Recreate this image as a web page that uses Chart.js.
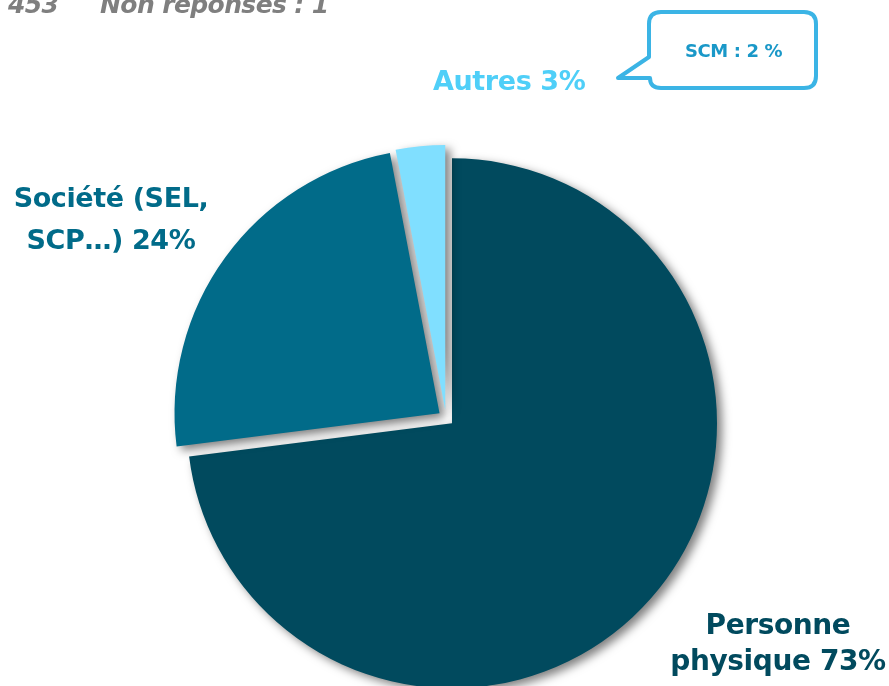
<!DOCTYPE html>
<html>
<head>
<meta charset="utf-8">
<script src="https://cdn.jsdelivr.net/npm/chart.js@4"></script>
<style>
  html, body { margin: 0; padding: 0; background: #fff; }
  #wrap { position: relative; width: 889px; height: 686px; overflow: hidden; }
  #chart { position: absolute; left: 0; top: 0; }
  .lbl { position: absolute; font-family: "DejaVu Sans", sans-serif; font-weight: 700; white-space: nowrap; line-height: 36px; letter-spacing: -0.4px; }
  #top { left: 8px; top: -13px; font-size: 25px; font-style: italic; color: #7f7f7f; line-height: 36px; letter-spacing: -0.6px; }
  #top span { position: absolute; left: 92px; top: 0; }
  #autres { left: 433px; top: 63px; font-size: 27px; color: #4fcff8; }
  #societe { left: 0px; top: 177px; width: 222px; text-align: center; font-size: 27px; color: #016b89; line-height: 42px; }
  #personne { left: 662px; top: 607px; width: 232px; text-align: center; font-size: 28px; color: #014a5e; }
  #scm { left: 648px; top: 37px; width: 171px; text-align: center; font-size: 18px; color: #1a98c8; line-height: 28px; }
  #bubble { position: absolute; left: 0; top: 0; }
</style>
</head>
<body>
<div id="wrap">
  <canvas id="chart" width="889" height="686"></canvas>
  <svg id="bubble" width="889" height="686">
    <path d="M661,12 L804,12 Q816,12 816,24 L816,76 Q816,88 804,88 L661,88 Q650,88 650,78 L618,78 L649,57 L649,24 Q649,12 661,12 Z"
          fill="#fff" stroke="#3bb4e5" stroke-width="4" stroke-linejoin="round"/>
  </svg>
  <div class="lbl" id="top">453<span>Non réponses : 1</span></div>
  <div class="lbl" id="scm">SCM : 2 %</div>
  <div class="lbl" id="autres">Autres 3%</div>
  <div class="lbl" id="societe">Société (SEL,<br>SCP…) 24%</div>
  <div class="lbl" id="personne">Personne<br>physique 73%</div>
</div>
<script>
// Statut d'exercice - répartition
const categories = ['Personne physique', 'Société (SEL, SCP…)', 'Autres'];
const shares = [73, 24, 3];
const sliceColors = ['#014a5e', '#016b89', '#80dfff'];

const EXPLODE = 8; // px each slice is pulled out from the centre

// draw each arc pulled out along its mid angle, with a soft drop shadow
const explodePlugin = {
  id: 'explodeShadow',
  beforeDatasetDraw(chart, args) {
    const ctx = chart.ctx;
    args.meta.data.forEach(arc => {
      const mid = (arc.startAngle + arc.endAngle) / 2;
      ctx.save();
      ctx.shadowColor = 'rgba(0, 0, 0, 0.5)';
      ctx.shadowBlur = 10;
      ctx.shadowOffsetX = 5;
      ctx.shadowOffsetY = 4;
      ctx.translate(Math.cos(mid) * EXPLODE, Math.sin(mid) * EXPLODE);
      arc.draw(ctx);
      ctx.restore();
    });
    return false;
  }
};

new Chart(document.getElementById('chart'), {
  type: 'pie',
  data: {
    labels: categories,
    datasets: [{
      data: shares,
      backgroundColor: sliceColors,
      borderWidth: 0,
      clip: false
    }]
  },
  options: {
    responsive: false,
    animation: false,
    radius: 265,
    layout: { padding: { left: 3, right: 0, top: 150, bottom: 0 } },
    plugins: {
      legend: { display: false },
      tooltip: { enabled: false }
    }
  },
  plugins: [explodePlugin]
});
</script>
</body>
</html>
